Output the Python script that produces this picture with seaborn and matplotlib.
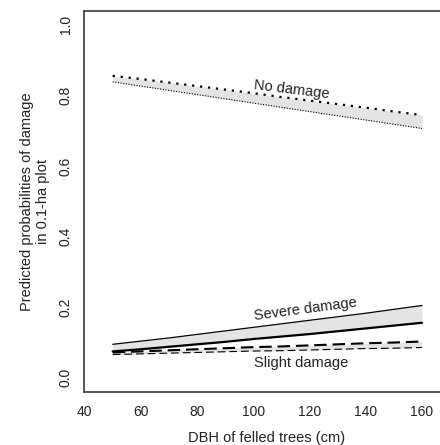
import matplotlib
matplotlib.use("Agg")
import matplotlib.pyplot as plt
import seaborn as sns

# ---- data ----
dbh = [50, 60, 70, 80, 90, 100, 110, 120, 130, 140, 150, 160]
no_damage_hi = [0.855, 0.846, 0.836, 0.826, 0.816, 0.806, 0.795, 0.785, 0.775, 0.765, 0.754, 0.744]
no_damage_lo = [0.838, 0.826, 0.814, 0.802, 0.790, 0.778, 0.766, 0.754, 0.742, 0.730, 0.718, 0.706]
severe_hi = [0.095, 0.104, 0.113, 0.123, 0.133, 0.143, 0.153, 0.163, 0.173, 0.183, 0.194, 0.205]
severe_lo = [0.075, 0.081, 0.088, 0.095, 0.102, 0.110, 0.117, 0.124, 0.132, 0.140, 0.148, 0.156]
slight_hi = [0.072, 0.075, 0.078, 0.081, 0.084, 0.087, 0.089, 0.092, 0.095, 0.098, 0.100, 0.103]
slight_lo = [0.066, 0.068, 0.070, 0.072, 0.074, 0.076, 0.077, 0.079, 0.081, 0.083, 0.084, 0.086]

x_ticks = [40, 60, 80, 100, 120, 140, 160]
y_ticks = [0.0, 0.2, 0.4, 0.6, 0.8, 1.0]
y_tick_labels = ["0.0", "0.2", "0.4", "0.6", "0.8", "1.0"]
x_label = "DBH of felled trees (cm)"
y_label = "Predicted probabilities of damage\nin 0.1-ha plot"

sns.set_style("white")
plt.rcParams["font.family"] = ["Liberation Sans", "DejaVu Sans"]

fig = plt.figure(figsize=(4.40, 4.45), dpi=100)
ax = fig.add_axes([0.1909, 0.1191, 0.8091, 0.8573])

fill_col = "#e4e4e4"
ax.fill_between(dbh, no_damage_lo, no_damage_hi, color=fill_col, lw=0, zorder=1)
ax.fill_between(dbh, severe_lo, severe_hi, color=fill_col, lw=0, zorder=1)
ax.fill_between(dbh, slight_lo, slight_hi, color=fill_col, lw=0, zorder=1)

lines = [
    (no_damage_hi, 1.6, (0, (1, 2.6))),
    (no_damage_lo, 0.8, (0, (1, 1.4))),
    (severe_hi, 0.9, "-"),
    (severe_lo, 1.6, "-"),
    (slight_hi, 1.5, (0, (6, 2.8))),
    (slight_lo, 0.8, (0, (7, 3.5))),
]
for vals, lw, ls in lines:
    sns.lineplot(x=dbh, y=vals, ax=ax, color="black", linewidth=lw,
                 linestyle=ls, zorder=3)

ax.set_xlim(39.8, 166.4)
ax.set_ylim(-0.04, 1.04)
ax.set_xticks(x_ticks)
ax.set_yticks(y_ticks)
ax.set_yticklabels(y_tick_labels, rotation=90, va="center")

spine_col = "#3a3a3a"
for s in ["left", "bottom", "top"]:
    ax.spines[s].set_color(spine_col)
    ax.spines[s].set_linewidth(1.2)
ax.spines["right"].set_visible(False)

ax.tick_params(axis="both", which="major", direction="out", length=5.5,
               width=1.0, color=spine_col, labelcolor="#222222", labelsize=10)
ax.tick_params(axis="x", pad=3.5)
ax.tick_params(axis="y", pad=2.5)

ax.set_xlabel(x_label, fontsize=10.5, color="#222222", va="center")
ax.xaxis.set_label_coords(0.514, -0.1206)
ax.set_ylabel(y_label, fontsize=10.5, color="#222222", va="center",
              linespacing=1.15)
ax.yaxis.set_label_coords(-0.138, 0.5)

txt_kw = dict(fontsize=10.5, color="#222222", ha="center", va="center",
              rotation_mode="anchor", zorder=4)
ax.text(113.7, 0.817, "No damage", rotation=-7, **txt_kw)
ax.text(118.6, 0.194, "Severe damage", rotation=7.5, **txt_kw)
ax.text(116.9, 0.042, "Slight damage", rotation=0, **txt_kw)

fig.savefig("out.png", dpi=100)
